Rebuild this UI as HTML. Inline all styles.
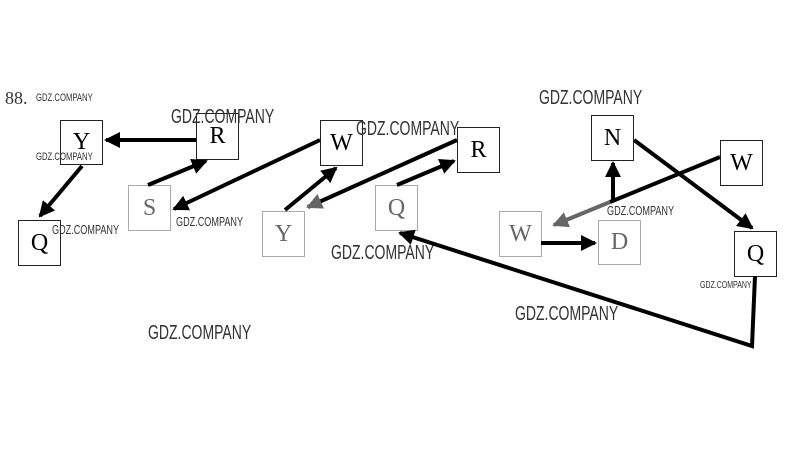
<!DOCTYPE html>
<html><head><meta charset="utf-8"><style>
body{margin:0;background:#fff;width:808px;height:451px;overflow:hidden;position:relative;font-family:"Liberation Serif",serif}
.b{position:absolute;border:1.5px solid #222;box-sizing:border-box;display:flex;align-items:center;justify-content:center;font-size:24px;background:#fff}
.l{border-color:#aaa;color:#666}
.t{position:absolute;font-family:"Liberation Sans",sans-serif;color:#333;transform:scaleX(0.7);transform-origin:left top;white-space:nowrap}
svg{position:absolute;left:0;top:0;z-index:2}
</style></head><body>
<div class="t" style="left:5px;top:88px;font-family:'Liberation Serif',serif;font-size:18px;transform:none">88.</div>
<div class="b" style="left:60px;top:120px;width:43px;height:45px">Y</div>
<div class="b" style="left:196px;top:113px;width:43px;height:47px">R</div>
<div class="b" style="left:18px;top:220px;width:43px;height:46px">Q</div>
<div class="b l" style="left:128px;top:185px;width:43px;height:46px">S</div>
<div class="b" style="left:320px;top:120px;width:43px;height:46px">W</div>
<div class="b l" style="left:262px;top:211px;width:43px;height:46px">Y</div>
<div class="b l" style="left:375px;top:185px;width:43px;height:46px">Q</div>
<div class="b" style="left:457px;top:127px;width:43px;height:46px">R</div>
<div class="b" style="left:591px;top:115px;width:43px;height:46px">N</div>
<div class="b" style="left:720px;top:140px;width:43px;height:46px">W</div>
<div class="b l" style="left:499px;top:211px;width:43px;height:46px">W</div>
<div class="b l" style="left:598px;top:220px;width:43px;height:45px">D</div>
<div class="b" style="left:734px;top:231px;width:43px;height:46px">Q</div>
<svg width="808" height="451">
<defs><marker id="a" markerWidth="4" markerHeight="4" refX="3.5" refY="2" orient="auto" markerUnits="strokeWidth"><path d="M0,0L4,2L0,4z" fill="#000"/></marker>
<marker id="g" markerWidth="4" markerHeight="4" refX="3.5" refY="2" orient="auto" markerUnits="strokeWidth"><path d="M0,0L4,2L0,4z" fill="#666"/></marker></defs>
<g stroke="#000" stroke-width="4" fill="none">
<line x1="196" y1="140" x2="106" y2="140" marker-end="url(#a)"/>
<line x1="82" y1="166" x2="40" y2="216" marker-end="url(#a)"/>
<line x1="148" y1="185" x2="206" y2="161" marker-end="url(#a)"/>
<line x1="320" y1="140" x2="174" y2="209" marker-end="url(#a)"/>
<line x1="285" y1="210" x2="336" y2="168" marker-end="url(#a)"/>
<line x1="457" y1="140" x2="308" y2="207" marker-end="url(#g)"/>
<line x1="397" y1="185" x2="454" y2="161" marker-end="url(#a)"/>
<line x1="613" y1="200" x2="613" y2="163" marker-end="url(#a)"/>
<line x1="720" y1="157" x2="610" y2="202"/>
<line x1="610" y1="202" x2="554" y2="225" stroke="#666" marker-end="url(#g)"/>
<line x1="634" y1="140" x2="752" y2="228" marker-end="url(#a)"/>
<line x1="541" y1="243" x2="595" y2="243" marker-end="url(#a)"/>
<polyline points="755,276 752,346 400,233" marker-end="url(#a)"/>
</g>
</svg>
<div class="t" style="left:36px;top:92px;font-size:11px">GDZ.COMPANY</div>
<div class="t" style="left:36px;top:151px;font-size:11px">GDZ.COMPANY</div>
<div class="t" style="left:171px;top:106px;font-size:20px">GDZ.COMPANY</div>
<div class="t" style="left:52px;top:222px;font-size:13px">GDZ.COMPANY</div>
<div class="t" style="left:176px;top:214px;font-size:13px">GDZ.COMPANY</div>
<div class="t" style="left:356px;top:118px;font-size:20px">GDZ.COMPANY</div>
<div class="t" style="left:331px;top:242px;font-size:20px">GDZ.COMPANY</div>
<div class="t" style="left:148px;top:322px;font-size:20px">GDZ.COMPANY</div>
<div class="t" style="left:539px;top:87px;font-size:20px">GDZ.COMPANY</div>
<div class="t" style="left:607px;top:203px;font-size:13px">GDZ.COMPANY</div>
<div class="t" style="left:515px;top:303px;font-size:20px">GDZ.COMPANY</div>
<div class="t" style="left:700px;top:280px;font-size:10px">GDZ.COMPANY</div>
</body></html>
